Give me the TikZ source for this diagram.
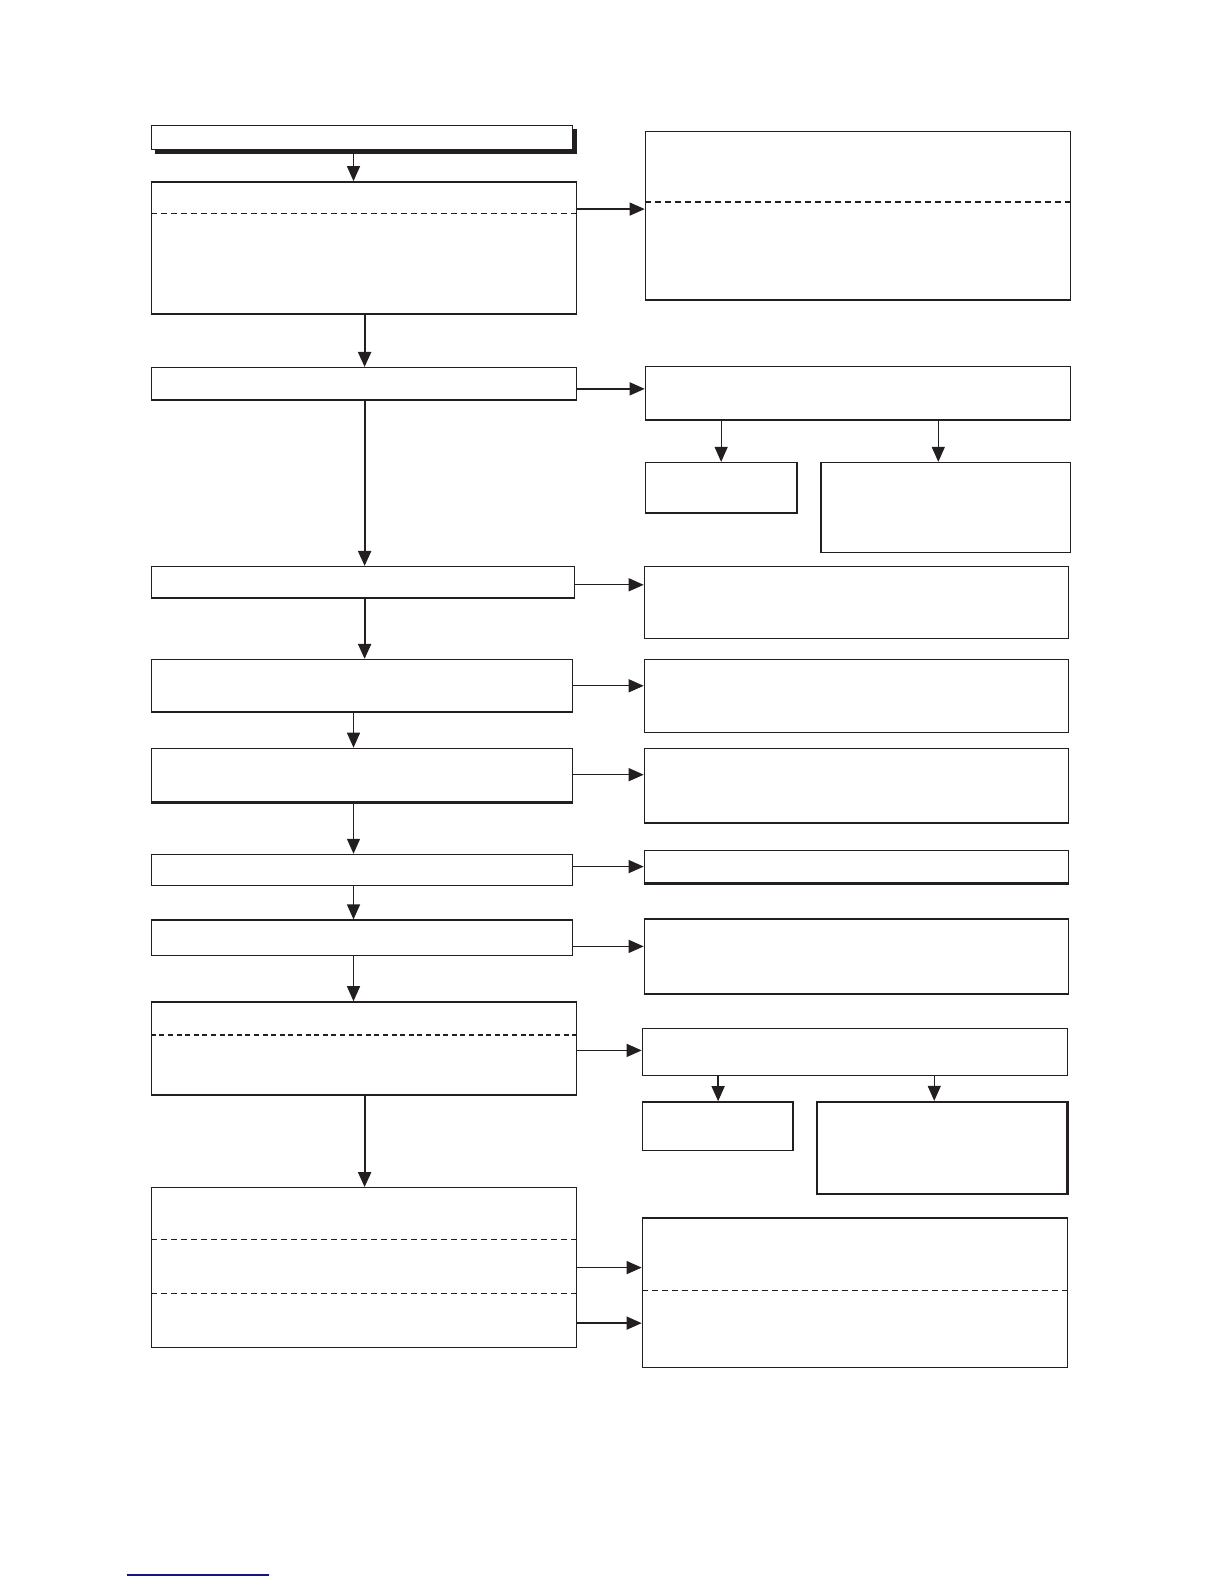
\documentclass[tikz,border=0pt]{standalone}
\usetikzlibrary{arrows.meta,fit}
\definecolor{ink}{RGB}{35,31,32}
\definecolor{navy}{RGB}{20,20,130}
\tikzset{
  box/.style={draw=ink, line width=0.7pt, fill=white, inner sep=0pt, rectangle},
  shadowbox/.style={fill=ink, draw=ink, inner sep=0pt, rectangle},
  arr/.style={draw=ink, line width=0.65pt, -{Triangle[length=7.5pt,width=6.5pt]}},
  arrthick/.style={arr, line width=1.1pt},
  divider/.style={draw=ink, line width=0.6pt, dash pattern=on 3pt off 2pt},
  dividerthick/.style={draw=ink, line width=1.1pt, dash pattern=on 2.5pt off 1.8pt},
}
\begin{document}
\begin{tikzpicture}[x=0.505pt,y=-0.505pt]
\useasboundingbox (0,0) rectangle (1211.9,1568.3);
% left column
\node[shadowbox, fit={(154,128)(571,152)}] (L0s) {};
\node[box, fit={(150,124)(567,148)}] (L0) {};
\node[box, fit={(150,180)(571,311)}] (L1) {};
\node[box, fit={(150,364)(571,396)}] (L2) {};
\node[box, fit={(150,561)(569,592)}] (L3) {};
\node[box, fit={(150,653)(567,705)}] (L4) {};
\node[box, fit={(150,741)(567,794)}] (L5) {};
\node[box, fit={(150,846)(567,877)}] (L6) {};
\node[box, fit={(150,911)(567,946)}] (L7) {};
\node[box, fit={(150,992)(571,1084)}] (L8) {};
\node[box, fit={(150,1176)(571,1334)}] (L9) {};
% right column
\node[box, fit={(639,130)(1060,297)}] (R1) {};
\node[box, fit={(639,363)(1060,416)}] (R2) {};
\node[box, fit={(639,458)(789,508)}] (R2a) {};
\node[box, fit={(813,458)(1060,547)}] (R2b) {};
\node[box, fit={(638,561)(1058,632)}] (R3) {};
\node[box, fit={(638,653)(1058,725)}] (R4) {};
\node[box, fit={(638,741)(1058,815)}] (R5) {};
\node[box, fit={(638,842)(1058,874)}] (R6) {};
\node[box, fit={(638,910)(1058,984)}] (R7) {};
\node[box, fit={(636,1018)(1057,1065)}] (R8) {};
\node[box, fit={(636,1091)(785,1139)}] (R8a) {};
\node[box, line width=1.1pt, fit={(809,1091)(1057,1182)}] (R8b) {};
\node[box, fit={(636,1206)(1057,1354)}] (R9) {};
% thick bottoms
\draw[ink, line width=1.3pt] (L5.south west) -- (L5.south east);
\draw[ink, line width=1.3pt] (R6.south west) -- (R6.south east);
% dividers
\coordinate (d1) at (0,211);
\coordinate (d2) at (0,200);
\coordinate (d3) at (0,1025);
\coordinate (d4) at (0,1227);
\coordinate (d5) at (0,1281);
\coordinate (d6) at (0,1278);
\draw[divider] (L1.west |- d1) -- (L1.east |- d1);
\draw[divider] (R1.west |- d2) -- (R1.east |- d2);
\draw[dividerthick] (L8.west |- d3) -- (L8.east |- d3);
\draw[divider] (L9.west |- d4) -- (L9.east |- d4);
\draw[divider] (L9.west |- d5) -- (L9.east |- d5);
\draw[divider] (R9.west |- d6) -- (R9.east |- d6);
% vertical arrow columns
\coordinate (ca) at (350,0);
\coordinate (cb) at (361,0);
\coordinate (cc) at (714,0);
\coordinate (cd) at (929,0);
\coordinate (ce) at (711,0);
\coordinate (cf) at (925,0);
\draw[arr] (L0.south -| ca) -- (L1.north -| ca);
\draw[arrthick] (L1.south -| cb) -- (L2.north -| cb);
\draw[arrthick] (L2.south -| cb) -- (L3.north -| cb);
\draw[arrthick] (L3.south -| cb) -- (L4.north -| cb);
\draw[arr] (L4.south -| ca) -- (L5.north -| ca);
\draw[arr] (L5.south -| ca) -- (L6.north -| ca);
\draw[arr] (L6.south -| ca) -- (L7.north -| ca);
\draw[arr] (L7.south -| ca) -- (L8.north -| ca);
\draw[arrthick] (L8.south -| cb) -- (L9.north -| cb);
\draw[arr] (R2.south -| cc) -- (R2a.north -| cc);
\draw[arr] (R2.south -| cd) -- (R2b.north -| cd);
\draw[arr] (R8.south -| ce) -- (R8a.north -| ce);
\draw[arr] (R8.south -| cf) -- (R8b.north -| cf);
% horizontal arrows
\coordinate (h1) at (0,207);
\coordinate (h2) at (0,385);
\coordinate (h3) at (0,579);
\coordinate (h4) at (0,679);
\coordinate (h5) at (0,767);
\coordinate (h6) at (0,858);
\coordinate (h7) at (0,937);
\coordinate (h8) at (0,1040);
\coordinate (h9) at (0,1255);
\coordinate (h10) at (0,1310);
\draw[arr] (L1.east |- h1) -- (R1.west |- h1);
\draw[arr] (L2.east |- h2) -- (R2.west |- h2);
\draw[arr] (L3.east |- h3) -- (R3.west |- h3);
\draw[arr] (L4.east |- h4) -- (R4.west |- h4);
\draw[arr] (L5.east |- h5) -- (R5.west |- h5);
\draw[arr] (L6.east |- h6) -- (R6.west |- h6);
\draw[arr] (L7.east |- h7) -- (R7.west |- h7);
\draw[arr] (L8.east |- h8) -- (R8.west |- h8);
\draw[arr] (L9.east |- h9) -- (R9.west |- h9);
\draw[arr] (L9.east |- h10) -- (R9.west |- h10);
% footer rule
\coordinate (f1) at (125.7,1559.4);
\coordinate (f2) at (266.3,1559.4);
\draw[navy, line width=0.8pt] (f1) -- (f2);
\end{tikzpicture}
\end{document}
